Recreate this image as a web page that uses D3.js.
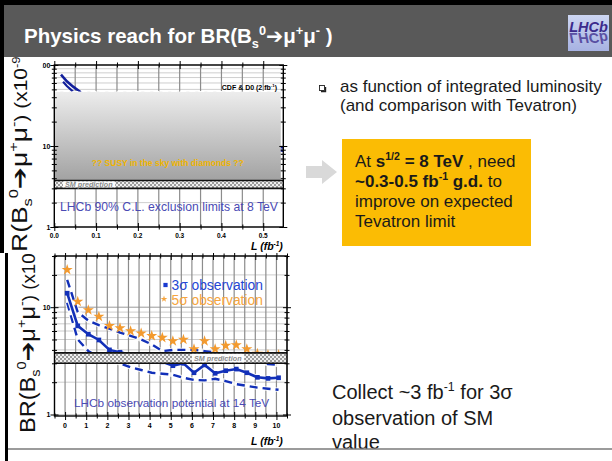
<!DOCTYPE html>
<html>
<head>
<meta charset="utf-8">
<script src="https://cdn.jsdelivr.net/npm/d3@7"></script>
<style>
  body { margin: 0; background: #fff; }
  svg { display: block; }
  text { font-family: "Liberation Sans", Arial, sans-serif; }
</style>
</head>
<body>
<svg id="slide" width="612" height="461"></svg>
<script>
// ---------- 8 TeV exclusion limit vs integrated luminosity (fb^-1) ----------
const exclLumi      = [0.016, 0.03, 0.045, 0.06, 0.1, 0.2, 0.3, 0.4, 0.5, 0.548];
const exclLimitA    = [76, 63, 54, 47.5, 34, 20, 15, 12.3, 10.4, 9.6];
const exclLumiB     = [0.021, 0.03, 0.045, 0.06, 0.1, 0.2, 0.3, 0.4, 0.5, 0.548];
const exclLimitB    = [62, 55, 47, 41, 30, 18, 13.5, 11, 9.3, 8.7];
const tevatronLimit = 47;          // CDF & D0 (2 fb^-1), x10^-9
const susyReachLumi = [0, 0.542];  // shaded region extent
const exclTicksX    = [0, 0.1, 0.2, 0.3, 0.4, 0.5];
const exclTickLabels = ["0.0", "0.1", "0.2", "0.3", "0.4", "0.5"];
const exclTicksY    = [1, 10, 100];

// ---------- 14 TeV observation potential ----------
const obsLumi    = [0.1, 0.6, 1.1, 1.6, 2.1, 2.6, 3.1, 3.6, 4.1, 4.6, 5.1, 5.6, 6.1, 6.6, 7.1, 7.6, 8.1, 8.6, 9.1, 9.6, 10.1];
const obs3sigma  = [13.5, 6.7, 5.6, 4.95, 4.0, 3.8, 3.6, 3.4, 3.3, 3.1, 2.85, 3.0, 2.45, 2.9, 2.42, 2.56, 2.65, 2.45, 2.22, 2.17, 2.2];
const obs3sigHi  = [18, 9.0, 7.5, 6.8, 6.3, 5.8, 5.4, 5.0, 4.5, 3.9, 4.0, 4.0, 4.0, 3.9, 3.8, 3.6, 3.5, 3.3, 3.1, 2.95, 2.9];
const obs3sigLo  = [11, 5.0, 3.9, 3.4, 3.2, 3.0, 2.75, 2.6, 2.45, 2.4, 2.35, 2.2, 2.1, 2.08, 2.15, 2.05, 1.92, 1.85, 1.78, 1.74, 1.7];
const obs5sigma  = [22.3, 11.3, 9.4, 8.2, 6.7, 6.4, 6.0, 5.7, 5.4, 5.2, 4.84, 5.0, 4.07, 4.84, 4.07, 4.38, 4.44, 4.07, 3.7, 3.6, 3.6];
const obsTicksX  = [0, 1, 2, 3, 4, 5, 6, 7, 8, 9, 10];
const obsTicksY  = [1, 10];

// Standard Model prediction band (x10^-9)
const smBand = [3.0, 3.75];

const svg = d3.select("#slide");
const defs = svg.append("defs");

const grad = defs.append("linearGradient").attr("id", "susyGrad")
  .attr("x1", 0).attr("y1", 0).attr("x2", 0).attr("y2", 1);
grad.append("stop").attr("offset", "0%").attr("stop-color", "#ededed");
grad.append("stop").attr("offset", "100%").attr("stop-color", "#a2a2a2");

const pat = defs.append("pattern").attr("id", "smHatch")
  .attr("width", 4).attr("height", 4).attr("patternUnits", "userSpaceOnUse");
pat.append("rect").attr("width", 4).attr("height", 4).attr("fill", "#9c9c9c");
pat.append("rect").attr("x", 0).attr("y", 0).attr("width", 2).attr("height", 2).attr("fill", "#efefef");
pat.append("rect").attr("x", 2).attr("y", 2).attr("width", 2).attr("height", 2).attr("fill", "#efefef");

const logoGrad = defs.append("linearGradient").attr("id", "logoGrad")
  .attr("x1", 0).attr("y1", 0).attr("x2", 0).attr("y2", 1);
logoGrad.append("stop").attr("offset", "0%").attr("stop-color", "#cdd6f2");
logoGrad.append("stop").attr("offset", "100%").attr("stop-color", "#a7b2e2");

defs.append("clipPath").attr("id", "clipTop").append("rect")
  .attr("x", 0).attr("y", 57).attr("width", 300).attr("height", 196);
defs.append("clipPath").attr("id", "clipBot").append("rect")
  .attr("x", 0).attr("y", 253).attr("width", 300).attr("height", 196);
defs.append("clipPath").attr("id", "clipLogo").append("rect")
  .attr("x", 568).attr("y", 15).attr("width", 41).attr("height", 36);

// text with super/subscripts; a part may carry its own base size
function rich(textSel, parts, size) {
  let shift = 0;
  parts.forEach(p => {
    const base = p.size || size;
    const ts = textSel.append("tspan").text(p.t);
    const target = p.sup ? -0.4 * base : p.sub ? 0.22 * base : 0;
    if (target - shift !== 0) ts.attr("dy", target - shift);
    shift = target;
    if (p.sup || p.sub) ts.attr("font-size", (p.scale || 0.62) * base);
    else if (p.size) ts.attr("font-size", p.size);
    if (p.bold) ts.attr("font-weight", "bold");
    if (p.family) ts.attr("font-family", p.family);
  });
  return textSel;
}
const ARROW = "DejaVu Sans, sans-serif";
const brParts = [
  { t: "BR(B" }, { t: "s", sub: true }, { t: "0", sup: true },
  { t: "\u2794", family: ARROW }, { t: "\u03bc" }, { t: "+", sup: true },
  { t: "\u03bc" }, { t: "-", sup: true }, { t: ") (x10", size: 17.5 }, { t: "-9", sup: true, size: 17.5 }, { t: ")", size: 17.5 }
];

// ticks that cross an axis line (outward + inward)
function crossTicks(g, scale, orient, pos, values, len) {
  const outer = { left: d3.axisLeft, right: d3.axisRight, bottom: d3.axisBottom, top: d3.axisTop };
  const opposite = { left: "right", right: "left", bottom: "top", top: "bottom" };
  const vertical = orient === "left" || orient === "right";
  [orient, opposite[orient]].forEach(o => {
    const a = g.append("g")
      .attr("transform", vertical ? `translate(${pos},0)` : `translate(0,${pos})`)
      .call(outer[o](scale).tickValues(values).tickSize(len).tickFormat(() => ""));
    a.select(".domain").remove();
    a.selectAll("line").attr("stroke", "#000").attr("stroke-width", 1);
  });
}

function smBandDraw(g, x, y, x0, x1, labelX) {
  g.append("rect").attr("x", x0).attr("y", y(smBand[1]))
    .attr("width", x1 - x0).attr("height", y(smBand[0]) - y(smBand[1]))
    .attr("fill", "url(#smHatch)");
  [smBand[0], smBand[1]].forEach(v => g.append("line")
    .attr("x1", x0).attr("x2", x1).attr("y1", y(v)).attr("y2", y(v))
    .attr("stroke", "#111").attr("stroke-width", 1.6));
  const lbl = g.append("text").attr("x", labelX).attr("y", (y(smBand[0]) + y(smBand[1])) / 2 + 2.5)
    .attr("font-size", 7.2).attr("font-weight", "bold").attr("font-style", "italic")
    .attr("fill", "#8a8a8a").text("SM prediction");
  const bb = lbl.node().getBBox();
  g.insert("rect", () => lbl.node()).attr("x", bb.x - 2).attr("y", y(smBand[1]) + 1)
    .attr("width", bb.width + 4).attr("height", y(smBand[0]) - y(smBand[1]) - 2).attr("fill", "#fdfdfd");
}

// ---------- slide frame ----------
svg.append("rect").attr("width", 612).attr("height", 461).attr("fill", "#fff");
svg.append("rect").attr("x", 0).attr("y", 0).attr("width", 612).attr("height", 57).attr("fill", "#595959");
svg.append("rect").attr("x", 0).attr("y", 0).attr("width", 612).attr("height", 5).attr("fill", "#000");

rich(svg.append("text").attr("x", 24).attr("y", 43).attr("fill", "#fff")
  .attr("font-size", 20.5).attr("font-weight", "bold"), [
  { t: "Physics reach for BR(B" }, { t: "s", sub: true }, { t: "0", sup: true },
  { t: "\u2794", family: ARROW }, { t: "\u03bc" }, { t: "+", sup: true },
  { t: "\u03bc" }, { t: "-", sup: true }, { t: " )" }
], 20.5);

// LHCb logo with its mirrored reflection
const logo = svg.append("g").attr("clip-path", "url(#clipLogo)");
logo.append("rect").attr("x", 568).attr("y", 15).attr("width", 41).attr("height", 36).attr("fill", "url(#logoGrad)");
logo.append("text").attr("id", "logoWord").attr("x", 588.5).attr("y", 32).attr("text-anchor", "middle")
  .attr("font-family", "Liberation Serif, serif").attr("font-style", "italic").attr("font-weight", "bold")
  .attr("font-size", 14.5).attr("fill", "#3b2a8c").text("LHCb");
logo.append("use").attr("href", "#logoWord")
  .attr("transform", "translate(0,65) scale(1,-1)").attr("opacity", 0.75);

// ---------- upper panel: 8 TeV exclusion ----------
const pT = svg.append("g").attr("clip-path", "url(#clipTop)");
pT.append("rect").attr("x", 0).attr("y", 57).attr("width", 300).attr("height", 196).attr("fill", "#fff");

const xT = d3.scaleLinear().domain([0, 0.548]).range([54.3, 283.3]);
const yT = d3.scaleLog().domain([1, 100]).range([227, 65]);
const [tx0, tx1] = xT.range();
const [ty1, ty0] = yT.range();

// grid
pT.append("g").selectAll("line").data(yT.ticks()).join("line")
  .attr("x1", tx0).attr("x2", tx1).attr("y1", d => yT(d)).attr("y2", d => yT(d))
  .attr("stroke", "#cfcfcf").attr("stroke-width", 1);
pT.append("g").selectAll("line").data(d3.range(0.05, 0.55, 0.05)).join("line")
  .attr("x1", d => xT(d)).attr("x2", d => xT(d)).attr("y1", ty0).attr("y2", ty1)
  .attr("stroke", "#8c8c8c").attr("stroke-width", 1.2);

// expected limit curves
const lineT = d3.line().x(d => xT(d[0])).y(d => yT(d[1]));
pT.append("path").datum(d3.zip(exclLumi, exclLimitA)).attr("d", lineT)
  .attr("fill", "none").attr("stroke", "#13209c").attr("stroke-width", 2.6);
pT.append("path").datum(d3.zip(exclLumiB, exclLimitB)).attr("d", lineT)
  .attr("fill", "none").attr("stroke", "#13209c").attr("stroke-width", 2.2);

// region between Tevatron limit and SM prediction
pT.append("rect").attr("x", xT(susyReachLumi[0])).attr("y", yT(tevatronLimit))
  .attr("width", xT(susyReachLumi[1]) - xT(susyReachLumi[0]))
  .attr("height", yT(smBand[1]) - yT(tevatronLimit)).attr("fill", "url(#susyGrad)");
pT.append("line").attr("x1", xT(susyReachLumi[0])).attr("x2", xT(susyReachLumi[1]))
  .attr("y1", yT(tevatronLimit)).attr("y2", yT(tevatronLimit))
  .attr("stroke", "#fff").attr("stroke-width", 1).attr("stroke-dasharray", "6,3");

smBandDraw(pT, xT, yT, tx0, tx1, 65);

pT.append("text").attr("x", (tx0 + tx1) / 2 - 1).attr("y", 166).attr("text-anchor", "middle")
  .attr("font-size", 8.5).attr("font-weight", "bold").attr("fill", "#f0b400")
  .text("??  SUSY in the sky with diamonds ??");
rich(pT.append("text").attr("x", 277).attr("y", 90).attr("text-anchor", "end")
  .attr("font-size", 7).attr("font-weight", "bold").attr("fill", "#000"), [
  { t: "CDF & D0 (2 fb" }, { t: "-1", sup: true }, { t: ")" }
], 7);
pT.append("text").attr("x", 60).attr("y", 211).attr("font-size", 12.2).attr("fill", "#4a4ab4")
  .text("LHCb 90% C.L. exclusion limits at 8 TeV");

// frame + ticks
pT.append("rect").attr("x", tx0).attr("y", ty0).attr("width", tx1 - tx0).attr("height", ty1 - ty0)
  .attr("fill", "none").attr("stroke", "#000").attr("stroke-width", 1.4);
const minorT = yT.ticks().filter(d => !exclTicksY.includes(d));
crossTicks(pT, yT, "left", tx0, exclTicksY, 4);
crossTicks(pT, yT, "left", tx0, minorT, 2.5);
crossTicks(pT, yT, "right", tx1, exclTicksY, 4);
crossTicks(pT, yT, "right", tx1, minorT, 2.5);
crossTicks(pT, xT, "bottom", ty1, exclTicksX, 4);
crossTicks(pT, xT, "bottom", ty1, d3.range(0.05, 0.55, 0.1), 2.5);
crossTicks(pT, xT, "top", ty0, exclTicksX, 4);
crossTicks(pT, xT, "top", ty0, d3.range(0.05, 0.55, 0.1), 2.5);

pT.append("g").selectAll("text").data(exclTicksY).join("text")
  .attr("x", tx0 - 4).attr("y", d => yT(d) + 2.5).attr("text-anchor", "end")
  .attr("font-size", 7).attr("font-weight", "bold").text(d => d);
pT.append("g").selectAll("text").data(exclTicksX).join("text")
  .attr("x", d => xT(d)).attr("y", 238).attr("text-anchor", "middle")
  .attr("font-size", 6.5).attr("font-weight", "bold").text((d, i) => exclTickLabels[i]);
rich(pT.append("text").attr("x", 251).attr("y", 250)
  .attr("font-family", "Liberation Serif, serif").attr("font-style", "italic").attr("font-weight", "bold")
  .attr("font-size", 10.5), [{ t: "L (fb" }, { t: "-1", sup: true }, { t: ")" }], 10.5);

// y title on a white strip
pT.append("rect").attr("x", 0).attr("y", 57).attr("width", 42.5).attr("height", 196).attr("fill", "#fff");
rich(pT.append("text").attr("transform", "translate(27,269.5) rotate(-90) scale(1.2,1)")
  .attr("font-size", 22).attr("fill", "#111"), brParts, 22);

// ---------- lower panel: 14 TeV observation ----------
const pB = svg.append("g").attr("clip-path", "url(#clipBot)");
pB.append("rect").attr("x", 0).attr("y", 253).attr("width", 300).attr("height", 196).attr("fill", "#fff");

const xB = d3.scaleLinear().domain([-0.5, 10.5]).range([54.5, 287]);
const yB = d3.scaleLog().domain([1, 30]).range([414.5, 256]);
const [bx0, bx1] = xB.range();
const by0 = 256, by1 = 416;

pB.append("g").selectAll("line").data(yB.ticks()).join("line")
  .attr("x1", bx0).attr("x2", bx1).attr("y1", d => yB(d)).attr("y2", d => yB(d))
  .attr("stroke", d => d === 10 ? "#9a9a9a" : "#cccccc").attr("stroke-width", 1);
pB.append("g").selectAll("line").data(d3.range(0, 10.6, 0.5)).join("line")
  .attr("x1", d => xB(d)).attr("x2", d => xB(d)).attr("y1", by0).attr("y2", by1)
  .attr("stroke", "#8c8c8c").attr("stroke-width", 1.2);

const lineB = d3.line().x(d => xB(d[0])).y(d => yB(d[1]));
const blue = "#1230b8";
[obs3sigHi, obs3sigLo].forEach(s => {
  pB.append("path").datum(d3.zip(obsLumi, s)).attr("d", lineB)
    .attr("fill", "none").attr("stroke", "#fff").attr("stroke-width", 4.5).attr("opacity", 0.8);
  pB.append("path").datum(d3.zip(obsLumi, s)).attr("d", lineB)
    .attr("fill", "none").attr("stroke", blue).attr("stroke-width", 2.4).attr("stroke-dasharray", "8,5");
});
pB.append("path").datum(d3.zip(obsLumi, obs3sigma)).attr("d", lineB)
  .attr("fill", "none").attr("stroke", "#fff").attr("stroke-width", 5).attr("opacity", 0.8);
pB.append("path").datum(d3.zip(obsLumi, obs3sigma)).attr("d", lineB)
  .attr("fill", "none").attr("stroke", blue).attr("stroke-width", 2.6);
pB.append("g").selectAll("path").data(d3.zip(obsLumi, obs3sigma)).join("path")
  .attr("transform", d => `translate(${xB(d[0])},${yB(d[1])})`)
  .attr("d", d3.symbol(d3.symbolSquare, 22)).attr("fill", blue);
pB.append("g").selectAll("path").data(d3.zip(obsLumi, obs5sigma)).join("path")
  .attr("transform", d => `translate(${xB(d[0])},${yB(d[1])})`)
  .attr("d", d3.symbol(d3.symbolStar, 38)).attr("fill", "#f39a2e");

smBandDraw(pB, xB, yB, bx0, bx1, 194);

// legend
pB.append("path").attr("transform", "translate(165.5,285)").attr("d", d3.symbol(d3.symbolSquare, 18)).attr("fill", "#1a3ad0");
pB.append("text").attr("x", 171.5).attr("y", 290).attr("font-size", 13.8).attr("fill", "#2446d4").text("3\u03c3 observation");
pB.append("path").attr("transform", "translate(164,299)").attr("d", d3.symbol(d3.symbolStar, 14)).attr("fill", "#f5a540");
pB.append("text").attr("x", 171.5).attr("y", 305).attr("font-size", 13.8).attr("fill", "#f5a540").text("5\u03c3 observation");
pB.append("text").attr("x", 74).attr("y", 407).attr("font-size", 11.8).attr("fill", "#4a4ab4")
  .text("LHCb observation potential at 14 TeV");

pB.append("rect").attr("x", bx0).attr("y", by0).attr("width", bx1 - bx0).attr("height", by1 - by0)
  .attr("fill", "none").attr("stroke", "#000").attr("stroke-width", 1.4);
const minorB = yB.ticks().filter(d => !obsTicksY.includes(d));
crossTicks(pB, yB, "left", bx0, obsTicksY, 4);
crossTicks(pB, yB, "left", bx0, minorB, 2.5);
crossTicks(pB, yB, "right", bx1, obsTicksY, 4);
crossTicks(pB, yB, "right", bx1, minorB, 2.5);
crossTicks(pB, xB, "bottom", by1, obsTicksX, 4);
crossTicks(pB, xB, "bottom", by1, d3.range(-0.5, 10.6, 1), 2.5);
crossTicks(pB, xB, "top", by0, obsTicksX, 4);
crossTicks(pB, xB, "top", by0, d3.range(-0.5, 10.6, 1), 2.5);

pB.append("g").selectAll("text").data(obsTicksY).join("text")
  .attr("x", bx0 - 4).attr("y", d => yB(d) + 2.5).attr("text-anchor", "end")
  .attr("font-size", 7).attr("font-weight", "bold").text(d => d);
pB.append("g").selectAll("text").data(obsTicksX).join("text")
  .attr("x", d => xB(d)).attr("y", 428).attr("text-anchor", "middle")
  .attr("font-size", 7).attr("font-weight", "bold").text(d => d);
rich(pB.append("text").attr("x", 251).attr("y", 445)
  .attr("font-family", "Liberation Serif, serif").attr("font-style", "italic").attr("font-weight", "bold")
  .attr("font-size", 10.5), [{ t: "L (fb" }, { t: "-1", sup: true }, { t: ")" }], 10.5);

rich(pB.append("text").attr("transform", "translate(35,433) rotate(-90) scale(1.07,1)")
  .attr("font-size", 22).attr("fill", "#111"), brParts, 22);

// left frame edge
svg.append("rect").attr("x", 0).attr("y", 0).attr("width", 4).attr("height", 253).attr("fill", "#000");
svg.append("rect").attr("x", 5).attr("y", 253).attr("width", 3).attr("height", 208).attr("fill", "#000");

// ---------- right column ----------
const ink = "#1a1a1a";
const bullet = svg.append("g");
bullet.append("rect").attr("x", 319.5).attr("y", 85.5).attr("width", 5).attr("height", 5).attr("fill", "#fff").attr("stroke", "#222").attr("stroke-width", 0.9);
bullet.append("path").attr("d", "M321,91.5 H325.5 V87").attr("fill", "none").attr("stroke", "#222").attr("stroke-width", 1.4);
svg.append("text").attr("x", 340).attr("y", 92).attr("font-size", 17).attr("fill", ink).text("as function of integrated luminosity");
svg.append("text").attr("x", 340).attr("y", 111).attr("font-size", 17).attr("fill", ink).text("(and comparison with Tevatron)");

svg.append("path").attr("d", "M306,166 H322 V160 L337,172 L322,184 V178 H306 Z").attr("fill", "#d9d9d9");
svg.append("rect").attr("x", 342).attr("y", 139).attr("width", 189).attr("height", 107).attr("fill", "#fbbc04");
rich(svg.append("text").attr("x", 355).attr("y", 167).attr("font-size", 17).attr("fill", ink), [
  { t: "At " }, { t: "s", bold: true }, { t: "1/2", sup: true, bold: true }, { t: " = 8 TeV", bold: true }, { t: " , need" }
], 17);
rich(svg.append("text").attr("x", 355).attr("y", 187).attr("font-size", 17).attr("fill", ink), [
  { t: "~0.3-0.5 fb", bold: true }, { t: "-1", sup: true, bold: true }, { t: " g.d.", bold: true }, { t: " to" }
], 17);
svg.append("text").attr("x", 355).attr("y", 207).attr("font-size", 17).attr("fill", ink).text("improve on expected");
svg.append("text").attr("x", 355).attr("y", 227).attr("font-size", 17).attr("fill", ink).text("Tevatron limit");

rich(svg.append("text").attr("x", 332).attr("y", 399).attr("font-size", 20).attr("fill", ink), [
  { t: "Collect ~3 fb" }, { t: "-1", sup: true }, { t: " for 3\u03c3" }
], 20);
svg.append("text").attr("x", 332).attr("y", 424.5).attr("font-size", 20).attr("fill", ink).text("observation of SM");
svg.append("text").attr("x", 332).attr("y", 449).attr("font-size", 20).attr("fill", ink).text("value");

svg.append("line").attr("x1", 8).attr("x2", 612).attr("y1", 449).attr("y2", 449)
  .attr("stroke", "#7a7a7a").attr("stroke-width", 1.5);
</script>
</body>
</html>
